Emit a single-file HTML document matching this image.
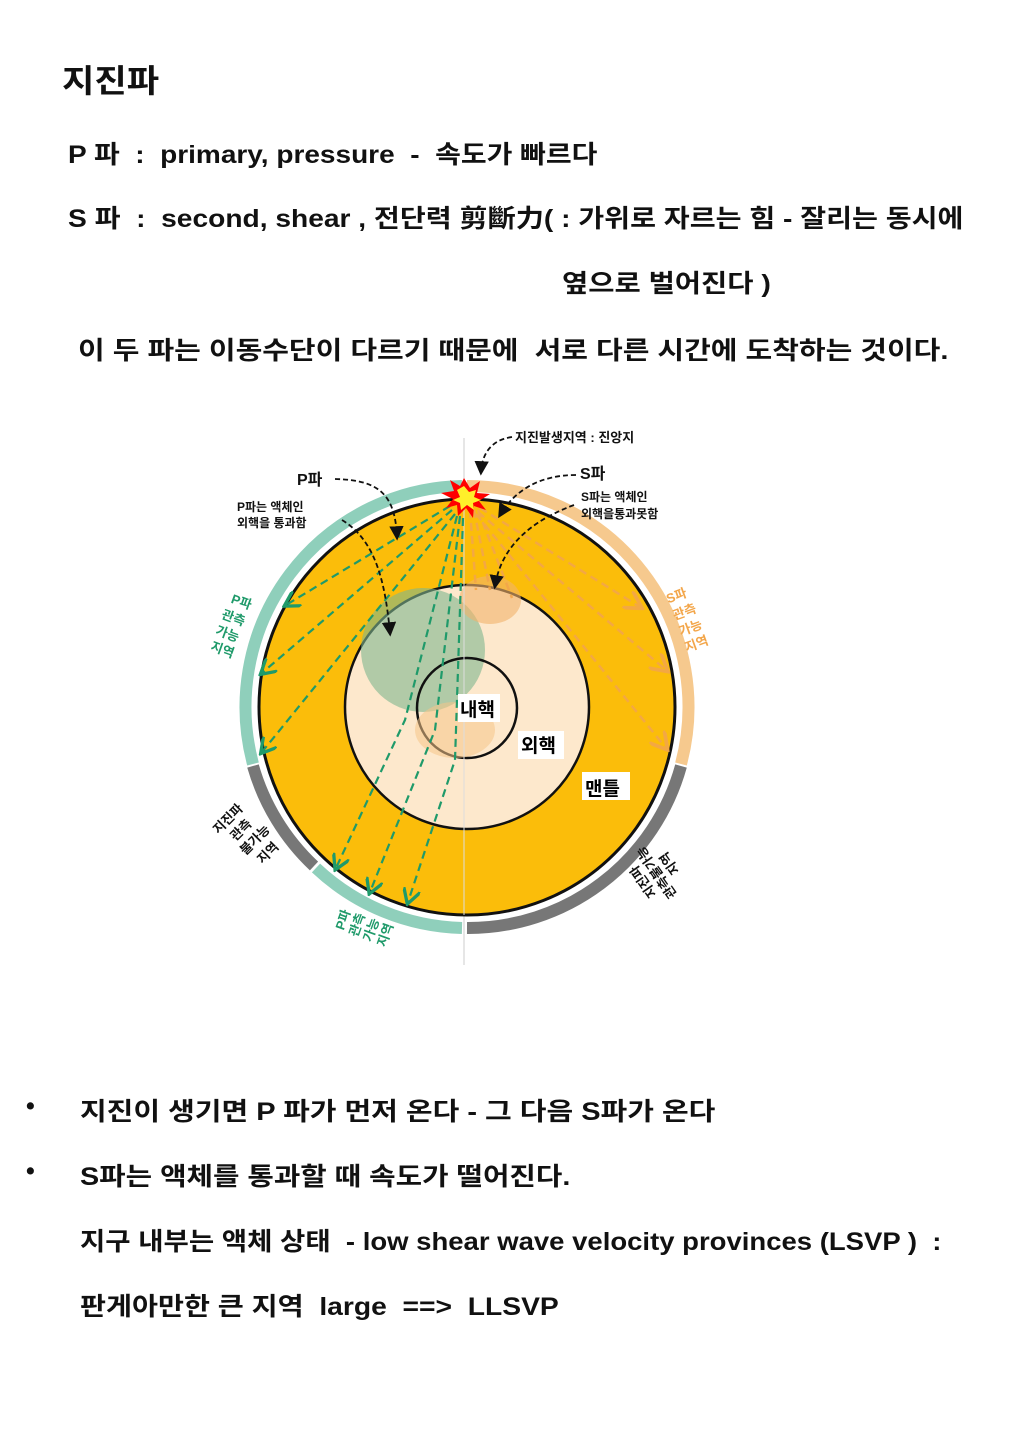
<!DOCTYPE html>
<html><head><meta charset="utf-8">
<style>
body{margin:0;width:1018px;height:1440px;background:#fff;position:relative;font-family:"Liberation Sans","Noto Sans CJK KR",sans-serif;color:#111;}
.t{position:absolute;font-weight:bold;white-space:nowrap;font-size:25px;transform-origin:0 50%;}
</style></head><body>
<div class="t" style="left:62px;top:56px;font-size:32px;transform:scaleX(1.1)">지진파</div>
<div class="t" style="left:68px;top:135px;transform:scaleX(1.12)">P 파 &nbsp;: &nbsp;primary, pressure &nbsp;- &nbsp;속도가 빠르다</div>
<div class="t" style="left:68px;top:199px;transform:scaleX(1.126)">S 파 &nbsp;: &nbsp;second, shear , 전단력 剪斷力( : 가위로 자르는 힘 - 잘리는 동시에</div>
<div class="t" style="left:562px;top:264px;transform:scaleX(1.14)">옆으로 벌어진다 )</div>
<div class="t" style="left:78px;top:331px;transform:scaleX(1.16)">이 두 파는 이동수단이 다르기 때문에 &nbsp;서로 다른 시간에 도착하는 것이다.</div>

<svg style="position:absolute;left:0;top:0" width="1018" height="1000" font-family="Liberation Sans, Noto Sans CJK KR, sans-serif">
<defs>
<marker id="ag" markerWidth="8" markerHeight="8" refX="6" refY="4" orient="auto"><path d="M0,0 L7,4 L0,8" fill="none" stroke="#1f9a6a" stroke-width="1.5"/></marker>
<marker id="ao" markerWidth="8" markerHeight="8" refX="6" refY="4" orient="auto"><path d="M0,0 L7,4 L0,8" fill="none" stroke="#f3a64a" stroke-width="1.5"/></marker>
<marker id="ak" markerWidth="8" markerHeight="8" refX="6" refY="4" orient="auto"><path d="M0,0 L8,4 L0,8 z" fill="#111"/></marker>
</defs>
<line x1="464" y1="438" x2="464" y2="965" stroke="#ccc" stroke-width="1"/>
<g fill="none" stroke-width="12">
<path d="M462,486 A221,221 0 0 0 253,764" stroke="#8fcfbb"/>
<path d="M253,766 A221,221 0 0 0 314,866" stroke="#777"/>
<path d="M316,868 A221,221 0 0 0 462,928" stroke="#8fcfbb"/>
<path d="M467,928 A221,221 0 0 0 681,766" stroke="#777"/>
<path d="M681,764 A221,221 0 0 0 467,486" stroke="#f6c98e"/>
</g>
<circle cx="467" cy="707" r="208" fill="#fbbd0a" stroke="#111" stroke-width="3"/>
<circle cx="467" cy="707" r="122" fill="#fde8cc" stroke="#111" stroke-width="2.5"/>
<circle cx="423" cy="650" r="62" fill="#7fb58e" opacity="0.6"/>
<ellipse cx="490" cy="600" rx="31" ry="24" fill="#f2b36a" opacity="0.6"/>
<circle cx="467" cy="708" r="50" fill="none" stroke="#111" stroke-width="2.5"/>
<ellipse cx="455" cy="730" rx="40" ry="28" fill="#f5c489" opacity="0.55"/>
<line x1="464" y1="499" x2="464" y2="915" stroke="#ddd" stroke-width="1"/>
<g fill="none" stroke="#1f9a6a" stroke-width="2.2" stroke-dasharray="8,5" marker-end="url(#ag)">
<line x1="450" y1="506" x2="286" y2="605"/>
<line x1="452" y1="510" x2="262" y2="673"/>
<line x1="455" y1="514" x2="262" y2="752"/>
<path d="M457,516 L405,720 L336,868"/>
<path d="M460,516 L435,730 L370,892"/>
<path d="M463,518 L455,760 L408,902"/>
</g>
<g fill="none" stroke="#f3a64a" stroke-width="2.5" stroke-dasharray="8,5" opacity="0.9">
<line x1="470" y1="510" x2="476" y2="590"/>
<line x1="474" y1="510" x2="490" y2="590"/>
<line x1="478" y1="510" x2="512" y2="598"/>
<line x1="480" y1="508" x2="640" y2="607" marker-end="url(#ao)"/>
<line x1="478" y1="512" x2="666" y2="670" marker-end="url(#ao)"/>
<line x1="476" y1="514" x2="666" y2="748" marker-end="url(#ao)"/>
</g>
<polygon points="464,478 470,488 480,481 477,493 490,494 479,501 486,510 474,506 473,518 466,508 458,516 457,505 446,508 453,499 441,493 454,491 450,480 460,486" fill="#f00"/>
<polygon points="464,486 469,492 476,490 474,497 481,500 473,503 474,510 467,505 461,510 460,503 453,500 460,497 457,490" fill="#ffef2a"/>
<g fill="none" stroke="#111" stroke-width="1.8" stroke-dasharray="5,3" marker-end="url(#ak)">
<path d="M512,437 C490,440 482,455 481,472"/>
<path d="M335,479 C380,480 395,495 397,537"/>
<path d="M342,520 C375,540 385,580 390,633"/>
<path d="M576,475 C540,475 515,490 500,515"/>
<path d="M574,505 C520,525 500,555 495,586"/>
</g>
<g font-weight="bold" fill="#111">
<text x="515" y="442" font-size="13">지진발생지역 : 진앙지</text>
<text x="297" y="485" font-size="16">P파</text>
<text x="237" y="511" font-size="12">P파는 액체인</text>
<text x="237" y="527" font-size="12">외핵을 통과함</text>
<text x="580" y="479" font-size="16">S파</text>
<text x="581" y="501" font-size="12">S파는 액체인</text>
<text x="581" y="518" font-size="12">외핵을통과못함</text>
</g>
<rect x="458" y="694" width="42" height="28" fill="#fff"/>
<text x="460" y="716" font-size="19" font-weight="bold">내핵</text>
<rect x="518" y="731" width="46" height="28" fill="#fff"/>
<text x="521" y="752" font-size="19" font-weight="bold">외핵</text>
<rect x="582" y="772" width="48" height="28" fill="#fff"/>
<text x="585" y="795" font-size="19" font-weight="bold">맨틀</text>
<g font-weight="bold" font-size="13" text-anchor="middle">
<text fill="#1f9a6a" transform="translate(240,606) rotate(20)">P파</text>
<text fill="#1f9a6a" transform="translate(232,622) rotate(20)">관측</text>
<text fill="#1f9a6a" transform="translate(226,638) rotate(20)">가능</text>
<text fill="#1f9a6a" transform="translate(221,654) rotate(20)">지역</text>
<text fill="#f3a64a" transform="translate(678,600) rotate(-20)">S파</text>
<text fill="#f3a64a" transform="translate(686,616) rotate(-20)">관측</text>
<text fill="#f3a64a" transform="translate(692,632) rotate(-20)">가능</text>
<text fill="#f3a64a" transform="translate(698,648) rotate(-20)">지역</text>
<text fill="#111" transform="translate(231,822) rotate(-45)">지진파</text>
<text fill="#111" transform="translate(244,833) rotate(-45)">관측</text>
<text fill="#111" transform="translate(258,843) rotate(-45)">불가능</text>
<text fill="#111" transform="translate(271,856) rotate(-45)">지역</text>
</g>
<g font-weight="bold" font-size="13" text-anchor="middle" fill="#111" transform="translate(660,870) rotate(-125)">
<text x="0" y="-16">지진파</text>
<text x="0" y="0">관측불가능</text>
<text x="0" y="16">지역</text>
</g>
<g font-weight="bold" font-size="13" text-anchor="middle" fill="#1f9a6a" transform="translate(366,928) rotate(-70)">
<text x="0" y="-20">P파</text>
<text x="0" y="-5">관측</text>
<text x="0" y="10">가능</text>
<text x="0" y="25">지역</text>
</g>
</svg>

<div class="t" style="left:26px;top:1092px;">•</div>
<div class="t" style="left:80px;top:1092px;transform:scaleX(1.16)">지진이 생기면 P 파가 먼저 온다 - 그 다음 S파가 온다</div>
<div class="t" style="left:26px;top:1157px;">•</div>
<div class="t" style="left:80px;top:1157px;transform:scaleX(1.15)">S파는 액체를 통과할 때 속도가 떨어진다.</div>
<div class="t" style="left:80px;top:1222px;transform:scaleX(1.1)">지구 내부는 액체 상태 &nbsp;- low shear wave velocity provinces (LSVP ) &nbsp;:</div>
<div class="t" style="left:80px;top:1287px;transform:scaleX(1.13)">판게아만한 큰 지역 &nbsp;large &nbsp;==&gt; &nbsp;LLSVP</div>
</body></html>
